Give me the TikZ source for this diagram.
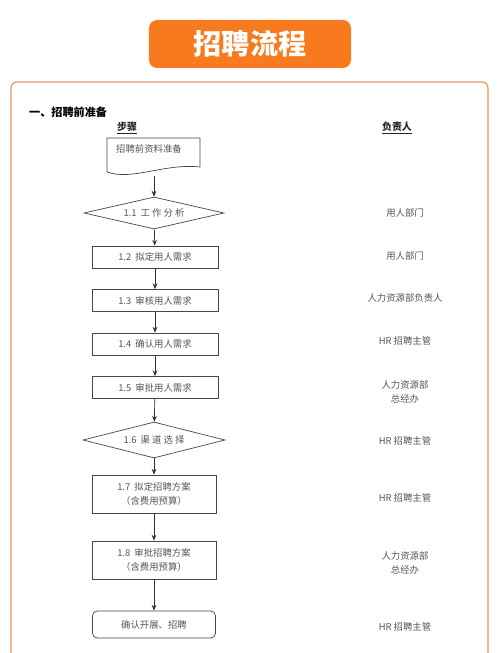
\documentclass[tikz,border=0pt]{standalone}
\usepackage{fontspec}
\setmainfont{Noto Sans CJK SC}
\usepackage{xcolor}
\definecolor{hrorange}{RGB}{247,122,30}
\definecolor{hrframe}{RGB}{228,150,95}
\definecolor{hrline}{RGB}{70,70,70}
\definecolor{hrtext}{RGB}{85,85,85}
\usetikzlibrary{arrows.meta,positioning,shapes.geometric}

\begin{document}
\begin{tikzpicture}[
  x=0.03cm, y=-0.03cm,
  titlebar/.style={
    rectangle, rounded corners=7pt,
    minimum width=6.06cm, minimum height=1.44cm,
    fill=hrorange, text=white,
    font=\fontsize{24}{28}\selectfont\bfseries
  },
  stepbox/.style={
    rectangle, draw=hrline, line width=0.6pt,
    minimum width=3.78cm, minimum height=0.66cm,
    inner sep=1pt, align=center, text=hrtext,
    font=\fontsize{8}{12}\selectfont
  },
  planbox/.style={stepbox, minimum width=3.72cm, minimum height=1.14cm},
  endbox/.style={stepbox, rounded corners=4pt, minimum width=3.69cm, minimum height=0.81cm},
  choice/.style={
    diamond, aspect=4.4, draw=hrline, line width=0.6pt,
    minimum width=4.2cm, minimum height=0.96cm,
    inner sep=0pt, text=hrtext,
    font=\fontsize{8}{10}\selectfont
  },
  owner/.style={align=center, text=hrtext, font=\fontsize{8}{12}\selectfont},
  colhead/.style={font=\fontsize{8.5}{10}\selectfont\bfseries, text=black!85},
  conn/.style={-{Stealth[length=5pt,width=4pt]}, line width=0.6pt, draw=black!80}
]
\useasboundingbox (0,0) rectangle (500,653);

% title and frame
\node[titlebar] (ttl) at (250,44) {招聘流程};
\draw[hrframe, line width=1pt, rounded corners=5pt]
  (11,660) -- (11,82) -- (488,82) -- (488,660);

\node[anchor=west, font=\fontsize{9.5}{11}\selectfont\bfseries] (sec) at (25,112) {一、招聘前准备};
\node[colhead] (hstep) at (127,128) {\underline{步骤}};
\node[colhead] (howner) at (397,128) {\underline{负责人}};

% document shape
\draw[hrline, line width=0.6pt]
  (107,172) -- (107,138) -- (200,138) -- (200,167)
  .. controls (165,163) and (132,181) .. (107,172);
\node[text=hrtext, font=\fontsize{8}{10}\selectfont] (s0) at (149,149) {招聘前资料准备};
\coordinate (s0b) at (154,176);

% steps
\node[choice] (s1) at (154,213) {1.1\ \ 工 作 分 析};
\node[stepbox] (s2) at (155,257) {1.2\ \ 拟定用人需求};
\node[stepbox] (s3) at (155,300.5) {1.3\ \ 审核用人需求};
\node[stepbox] (s4) at (155,344) {1.4\ \ 确认用人需求};
\node[stepbox] (s5) at (155,387.5) {1.5\ \ 审批用人需求};
\node[choice, minimum width=4.26cm, minimum height=1.08cm] (s6) at (154,440) {1.6\ \ 渠 道 选 择};
\node[planbox] (s7) at (154,494) {1.7\ \ 拟定招聘方案\\（含费用预算）};
\node[planbox] (s8) at (154,560) {1.8\ \ 审批招聘方案\\（含费用预算）};
\node[endbox] (s9) at (154,624.5) {确认开展、招聘};

\draw[conn] (s0b) -- (s1.north);
\draw[conn] (s1) -- (s2);
\draw[conn] (s2) -- (s3);
\draw[conn] (s3) -- (s4);
\draw[conn] (s4) -- (s5);
\draw[conn] (s5) -- (s6);
\draw[conn] (s6) -- (s7);
\draw[conn] (s7) -- (s8);
\draw[conn] (s8) -- (s9);

% owners
\node[owner] (o1) at (405,213) {用人部门};
\node[owner] (o2) at (405,256) {用人部门};
\node[owner] (o3) at (405,298) {人力资源部负责人};
\node[owner] (o4) at (405,341) {HR 招聘主管};
\node[owner] (o5) at (405,392) {人力资源部\\总经办};
\node[owner] (o6) at (405,441) {HR 招聘主管};
\node[owner] (o7) at (405,498) {HR 招聘主管};
\node[owner] (o8) at (405,563) {人力资源部\\总经办};
\node[owner] (o9) at (405,627) {HR 招聘主管};
\end{tikzpicture}
\end{document}
